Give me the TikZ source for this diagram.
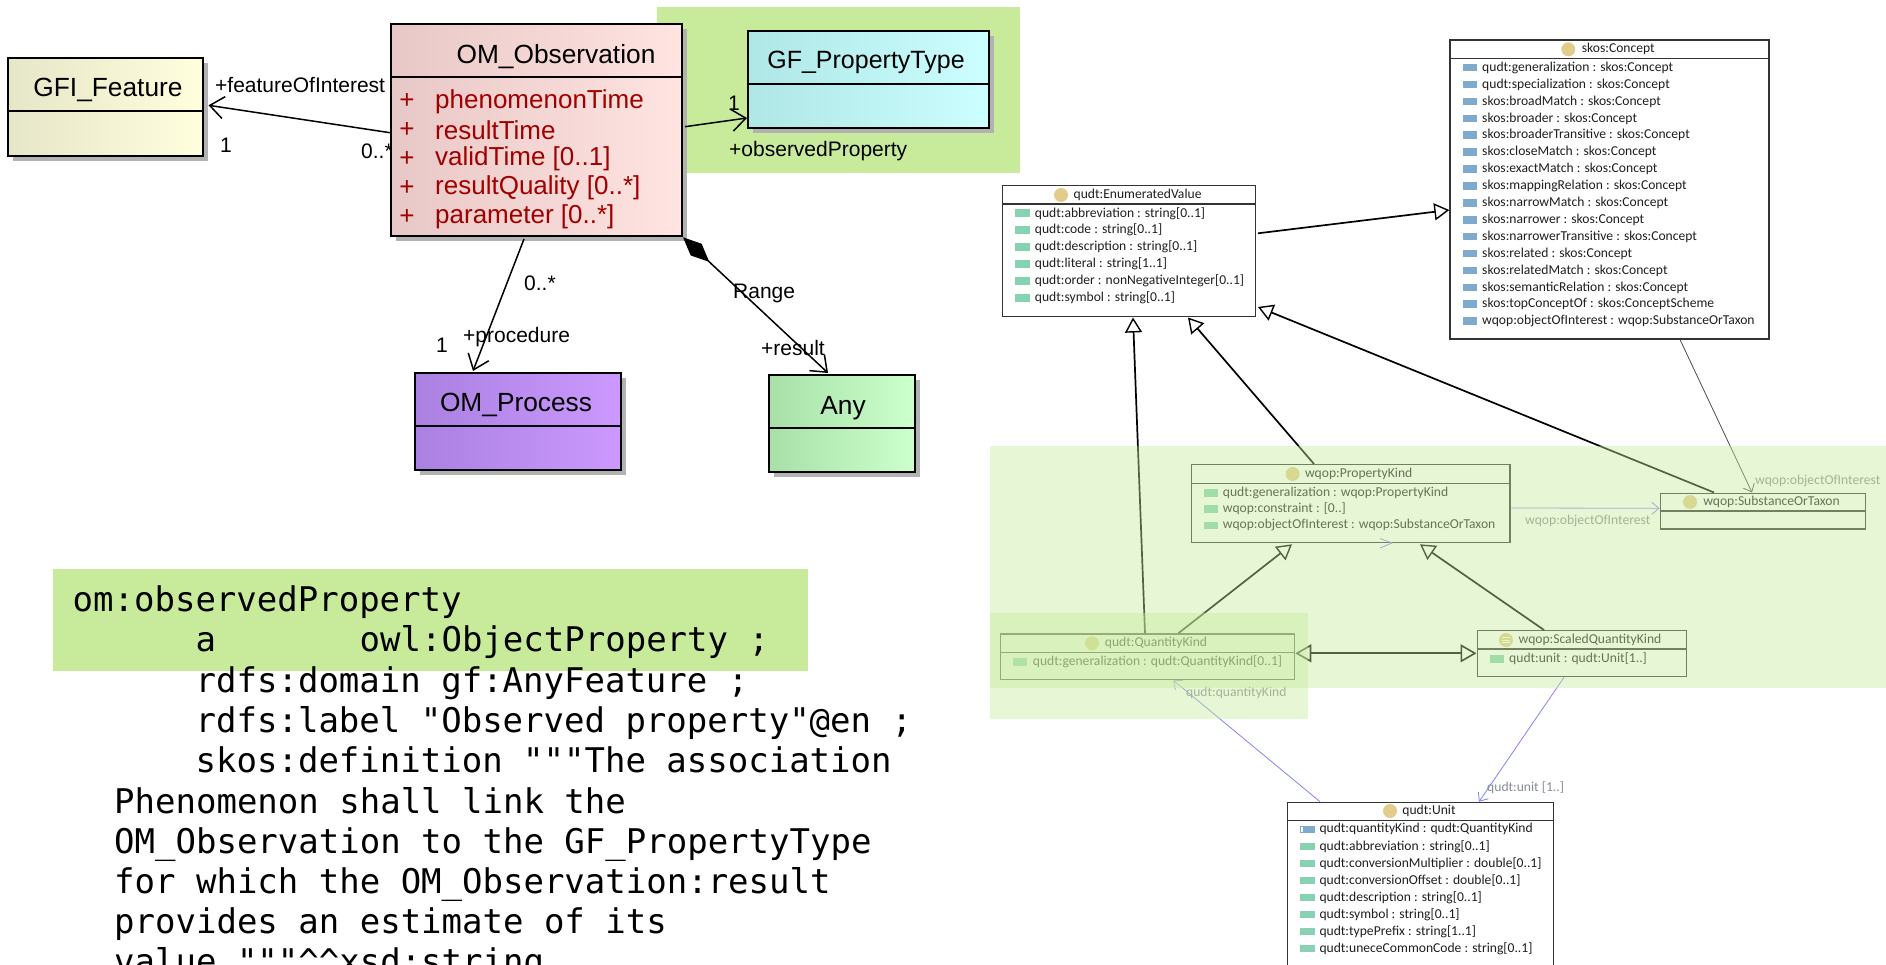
\documentclass[tikz,border=0pt]{standalone}
\usepackage{fontspec}
\setmainfont{Liberation Sans}
\newfontfamily\eclfont{Carlito}
\newfontfamily\codefont{DejaVu Sans Mono}
\usetikzlibrary{arrows.meta,calc,shadows}
\definecolor{bandgreen}{RGB}{200,235,155}
\definecolor{attrred}{RGB}{160,0,0}
\definecolor{gfiL}{RGB}{230,230,200}
\definecolor{gfiR}{RGB}{255,255,222}
\definecolor{obsL}{RGB}{232,200,198}
\definecolor{obsR}{RGB}{255,228,225}
\definecolor{gfpL}{RGB}{175,230,230}
\definecolor{gfpR}{RGB}{204,255,255}
\definecolor{procL}{RGB}{170,128,225}
\definecolor{procR}{RGB}{204,153,255}
\definecolor{anyL}{RGB}{168,224,168}
\definecolor{anyR}{RGB}{204,255,204}
\definecolor{dgreen}{RGB}{136,210,180}
\definecolor{oblue}{RGB}{125,170,205}
\definecolor{goldc}{RGB}{226,204,140}
\definecolor{linkblue}{RGB}{130,130,250}
\definecolor{lblgray}{RGB}{135,140,150}
\tikzset{
  umlbox/.style={draw=black, line width=2pt, inner sep=0pt, anchor=north west,
    drop shadow={shadow xshift=5pt,shadow yshift=-5pt,fill=black!30,opacity=1}},
  umltitle/.style={font=\fontsize{26.3}{30}\selectfont, inner sep=0pt},
  attr/.style={font=\fontsize{26}{30}\selectfont, text=attrred, inner sep=0pt},
  lbl/.style={font=\fontsize{21}{24}\selectfont, inner sep=0pt},
  assoc/.style={line width=1.5pt, -{Straight Barb[length=14pt,width=22pt,line width=1.5pt]}},
  code/.style={font={\codefont\fontsize{34}{40}\selectfont}, inner sep=0pt, anchor=base west},
  ebox/.style={draw=black!80, line width=1.3pt, fill=white, inner sep=0pt, anchor=north west},
  etitle/.style={font={\eclfont\fontsize{13.6}{16}\selectfont}, text=black!88, inner sep=0pt},
  erow/.style={font={\eclfont\fontsize{13.6}{16}\selectfont}, text=black!88, inner sep=0pt, anchor=west},
  elbl/.style={font={\eclfont\fontsize{13.6}{16}\selectfont}, text=lblgray, inner sep=0pt, anchor=west},
  gen/.style={line width=1.7pt, -{Triangle[open,length=15pt,width=17pt,line width=1.4pt]}},
  thinassoc/.style={line width=0.8pt, draw=black!70, -{Straight Barb[length=7pt,width=12pt,line width=0.8pt]}},
  blueassoc/.style={line width=0.8pt, draw=linkblue, -{Straight Barb[length=7pt,width=12pt,line width=0.8pt]}},
}
\begin{document}
\begin{tikzpicture}[x=1pt,y=-1pt]
\useasboundingbox (0,0) rectangle (1886,965);
\fill[white] (0,0) rectangle (1886,965);

% ---------- green highlight bands (left) ----------
\fill[bandgreen] (657,6.7) rectangle (1020,173.3);
\fill[bandgreen] (53,569) rectangle (808,671);

% ---------- UML (left) ----------
\node[lbl, anchor=west] (l0s) at (361,151.7) {0..*};

\node[umlbox, left color=gfiL, right color=gfiR, minimum width=195pt, minimum height=98pt] (gfi) at (6.5,56.7) {};
\draw[line width=2pt] ($(gfi.north west)+(0,54)$) -- ($(gfi.north east)+(0,54)$);
\node[umltitle] (gfiT) at (108,90) {GFI\_Feature};

\node[umlbox, left color=obsL, right color=obsR, minimum width=291pt, minimum height=212.6pt] (obs) at (390,22.7) {};
\draw[line width=2pt] ($(obs.north west)+(0,54.3)$) -- ($(obs.north east)+(0,54.3)$);
\node[umltitle] (obsT) at (556,57) {OM\_Observation};
\foreach \t [count=\i from 0] in {phenomenonTime, resultTime, validTime [0..1], resultQuality [0..*], parameter [0..*]} {
  \node[attr] (obsP\i) at (407,101.3+28.8*\i) {+};
  \node[attr, anchor=west] (obsA\i) at (435,101.3+28.8*\i) {\t};
}

\node[umlbox, left color=gfpL, right color=gfpR, minimum width=241pt, minimum height=97pt] (gfp) at (747,30) {};
\draw[line width=2pt] ($(gfp.north west)+(0,54)$) -- ($(gfp.north east)+(0,54)$);
\node[umltitle, font=\fontsize{25}{30}\selectfont] (gfpT) at (866,62) {GF\_PropertyType};

\node[umlbox, left color=procL, right color=procR, minimum width=206pt, minimum height=97pt] (proc) at (414,372) {};
\draw[line width=2pt] ($(proc.north west)+(0,54)$) -- ($(proc.north east)+(0,54)$);
\node[umltitle] (procT) at (516,405) {OM\_Process};

\node[umlbox, left color=anyL, right color=anyR, minimum width=146pt, minimum height=97pt] (any) at (768,374) {};
\draw[line width=2pt] ($(any.north west)+(0,54)$) -- ($(any.north east)+(0,54)$);
\node[umltitle] (anyT) at (843,408) {Any};

% connectors
\draw[assoc] ($(obs.north west)+(0,110)$) -- ($(gfi.north east)+(5,48.6)$);
\draw[assoc] ($(obs.north east)+(2,104)$) -- ($(gfp.north west)+(0,88)$);
\draw[assoc] ($(obs.south west)+(134,1.7)$) -- ($(proc.north west)+(59,-1)$);
\draw[line width=1.5pt, {Diamond[length=36pt,width=16pt,fill=black]}-{Straight Barb[length=14pt,width=22pt,line width=1.5pt]}]
  (obs.south east) -- ($(any.north west)+(60,-1)$);

\node[lbl, anchor=west] (lfoi) at (215,85) {+featureOfInterest};
\node[lbl] (l1a) at (226,145) {1};
\node[lbl] (l1b) at (734,103) {1};
\node[lbl, anchor=west] (lop) at (729,150.7) {+observedProperty};
\node[lbl, anchor=west] (l0p) at (524,283) {0..*};
\node[lbl] (l1c) at (442,345) {1};
\node[lbl, anchor=west] (lproc) at (463,337) {+procedure};
\node[lbl, anchor=west] (lrange) at (733,293) {Range};
\node[lbl, anchor=west] (lres) at (761,348) {+result};

% ---------- code text ----------
\node[code] (c1) at (72.5,611.7) {om:observedProperty};
\node[code] (c2a) at (195.5,651.7) {a};
\node[code] (c2b) at (359.5,651.7) {owl:ObjectProperty ;};
\node[code] (c3) at (195.5,692.7) {rdfs:domain gf:AnyFeature ;};
\node[code] (c4) at (195.5,732.7) {rdfs:label "Observed property"@en ;};
\node[code] (c5) at (195.5,772.7) {skos:definition """The association};
\node[code] (c6) at (114,813.3) {Phenomenon shall link the};
\node[code] (c7) at (114,853.3) {OM\_Observation to the GF\_PropertyType};
\node[code] (c8) at (114,893.3) {for which the OM\_Observation:result};
\node[code] (c9) at (114,933.3) {provides an estimate of its};
\node[code] (c10) at (114,973.5) {value."""\textasciicircum\textasciicircum xsd:string};

% ---------- Ontology diagram (right) ----------
% skos:Concept
\node[ebox, minimum width=319pt, minimum height=299pt] (sc) at (1449.3,39.3) {};
\draw[black!80, line width=1.2pt] ($(sc.north west)+(0,19)$) -- ($(sc.north east)+(0,19)$);
\fill[goldc] (1568.3,49.3) circle (7);
\node[etitle] (scT) at (1618.3,49.3) {skos:Concept};
\foreach \t [count=\i from 0] in {qudt:generalization : skos:Concept, qudt:specialization : skos:Concept, skos:broadMatch : skos:Concept, skos:broader : skos:Concept, skos:broaderTransitive : skos:Concept, skos:closeMatch : skos:Concept, skos:exactMatch : skos:Concept, skos:mappingRelation : skos:Concept, skos:narrowMatch : skos:Concept, skos:narrower : skos:Concept, skos:narrowerTransitive : skos:Concept, skos:related : skos:Concept, skos:relatedMatch : skos:Concept, skos:semanticRelation : skos:Concept, skos:topConceptOf : skos:ConceptScheme, wqop:objectOfInterest : wqop:SubstanceOrTaxon} {
  \fill[oblue] (1462.7,67.7+16.9*\i-3.8) rectangle (1476.7,67.7+16.9*\i+3.8);
  \node[erow] (scR\i) at (1482,67.7+16.9*\i) {\t};
}

% qudt:EnumeratedValue
\node[ebox, minimum width=253.3pt, minimum height=130.7pt] (ev) at (1001.7,185) {};
\draw[black!80, line width=1.2pt] ($(ev.north west)+(0,19)$) -- ($(ev.north east)+(0,19)$);
\fill[goldc] (1061,195) circle (7);
\node[etitle] (evT) at (1137.6,195) {qudt:EnumeratedValue};
\foreach \t [count=\i from 0] in {qudt:abbreviation : string[0..1], qudt:code : string[0..1], qudt:description : string[0..1], qudt:literal : string[1..1], qudt:order : nonNegativeInteger[0..1], qudt:symbol : string[0..1]} {
  \fill[dgreen] (1015,213.3+16.95*\i-3.8) rectangle (1030,213.3+16.95*\i+3.8);
  \node[erow] (evR\i) at (1034.7,213.3+16.95*\i) {\t};
}

% wqop:PropertyKind
\node[ebox, minimum width=318.6pt, minimum height=78pt] (pk) at (1190.7,464) {};
\draw[black!80, line width=1.2pt] ($(pk.north west)+(0,19.3)$) -- ($(pk.north east)+(0,19.3)$);
\fill[goldc] (1292.7,474) circle (7);
\node[etitle] (pkT) at (1358.7,474) {wqop:PropertyKind};
\foreach \t [count=\i from 0] in {qudt:generalization : wqop:PropertyKind, wqop:constraint : [0..], wqop:objectOfInterest : wqop:SubstanceOrTaxon} {
  \fill[dgreen] (1204,492.7+16.3*\i-3.8) rectangle (1218,492.7+16.3*\i+3.8);
  \node[erow] (pkR\i) at (1222.7,492.7+16.3*\i) {\t};
}

% wqop:SubstanceOrTaxon
\node[ebox, minimum width=205.5pt, minimum height=35.8pt] (st) at (1659.5,492.5) {};
\draw[black!80, line width=1.2pt] ($(st.north west)+(0,18.5)$) -- ($(st.north east)+(0,18.5)$);
\fill[goldc] (1690,502) circle (7);
\node[etitle] (stT) at (1771.5,502) {wqop:SubstanceOrTaxon};

% qudt:QuantityKind
\node[ebox, minimum width=294pt, minimum height=45.7pt] (qk) at (1000,633.3) {};
\draw[black!80, line width=1.2pt] ($(qk.north west)+(0,19)$) -- ($(qk.north east)+(0,19)$);
\fill[goldc] (1092,643.3) circle (7);
\node[etitle] (qkT) at (1156,643.3) {qudt:QuantityKind};
\fill[dgreen] (1013,662-3.8) rectangle (1027,662+3.8);
\node[erow] (qkR0) at (1032.7,662) {qudt:generalization : qudt:QuantityKind[0..1]};

% wqop:ScaledQuantityKind
\node[ebox, minimum width=209.5pt, minimum height=46pt] (sqk) at (1476.5,630) {};
\draw[black!80, line width=1.2pt] ($(sqk.north west)+(0,19)$) -- ($(sqk.north east)+(0,19)$);
\fill[goldc] (1506,640) circle (7);
\draw[white, line width=0.7pt] (1502,637.5) -- (1510,637.5) (1502,640) -- (1510,640) (1502,642.5) -- (1510,642.5);
\node[etitle] (sqkT) at (1590,640) {wqop:ScaledQuantityKind};
\fill[dgreen] (1490,658.7-3.8) rectangle (1503.7,658.7+3.8);
\node[erow] (sqkR0) at (1509,658.7) {qudt:unit : qudt:Unit[1..]};

% qudt:Unit
\node[ebox, minimum width=266pt, minimum height=180pt] (unit) at (1286.7,801.7) {};
\draw[black!80, line width=1.2pt] ($(unit.north west)+(0,19)$) -- ($(unit.north east)+(0,19)$);
\fill[goldc] (1390,811) circle (7);
\node[etitle] (unitT) at (1429,811) {qudt:Unit};
\foreach \t [count=\i from 0] in {qudt:quantityKind : qudt:QuantityKind, qudt:abbreviation : string[0..1], qudt:conversionMultiplier : double[0..1], qudt:conversionOffset : double[0..1], qudt:description : string[0..1], qudt:symbol : string[0..1], qudt:typePrefix : string[1..1], qudt:uneceCommonCode : string[0..1]} {
  \fill[dgreen] (1300,829.3+17*\i-3.8) rectangle (1314.7,829.3+17*\i+3.8);
  \node[erow] (unitR\i) at (1319.3,829.3+17*\i) {\t};
}
\fill[oblue] (1300,829.3-3.8) rectangle (1314.7,829.3+3.8);
\fill[white] (1301,829.3-2.8) rectangle (1302.5,829.3+2.8);

% right connectors
\draw[gen] ($(ev.north east)+(1.7,48.3)$) -- ($(sc.north west)+(0,170.7)$);
\draw[gen] ($(qk.north west)+(145,0)$) -- ($(ev.south west)+(131.3,0.5)$);
\draw[gen] ($(pk.north west)+(123.3,0)$) -- ($(ev.south west)+(186.3,0.5)$);
\draw[gen] ($(st.north west)+(54.5,0)$) -- ($(ev.south east)+(1.7,-10)$);
\draw[gen] ($(qk.north west)+(178.3,0)$) -- ($(pk.south west)+(101.3,1)$);
\draw[gen] ($(sqk.north west)+(67.5,0)$) -- ($(pk.south west)+(229.3,1)$);
\draw[line width=2.2pt, {Triangle[open,length=16pt,width=18pt,line width=1.6pt]}-{Triangle[open,length=16pt,width=18pt,line width=1.6pt]}]
  ($(qk.north east)+(0,20)$) -- ($(sqk.north west)+(0,23.3)$);
\draw[thinassoc] ($(sc.south west)+(230.7,0)$) -- ($(st.north west)+(92.5,0)$);
\draw[blueassoc] ($(pk.north east)+(0.7,44)$) -- ($(st.north west)+(0,15.8)$);
\draw[blueassoc] ($(unit.north west)+(33.3,0)$) -- ($(qk.south west)+(173.3,0)$);
\draw[blueassoc] ($(sqk.south west)+(87.5,0)$) -- ($(unit.north west)+(192.3,0)$);
\draw[linkblue, line width=0.8pt] (1380,538.5) -- (1392,543) -- (1380,548);

\node[elbl] (lo1) at (1755,480.7) {wqop:objectOfInterest};
\node[elbl] (lo2) at (1525,521) {wqop:objectOfInterest};
\node[elbl] (lqk) at (1186,693.3) {qudt:quantityKind};
\node[elbl] (lun) at (1487,787.7) {qudt:unit [1..]};

% translucent highlight bands (right)
\fill[bandgreen, fill opacity=0.42] (990,446) rectangle (1886,688);
\fill[bandgreen, fill opacity=0.42] (990,613) rectangle (1308,718.5);
\end{tikzpicture}
\end{document}
